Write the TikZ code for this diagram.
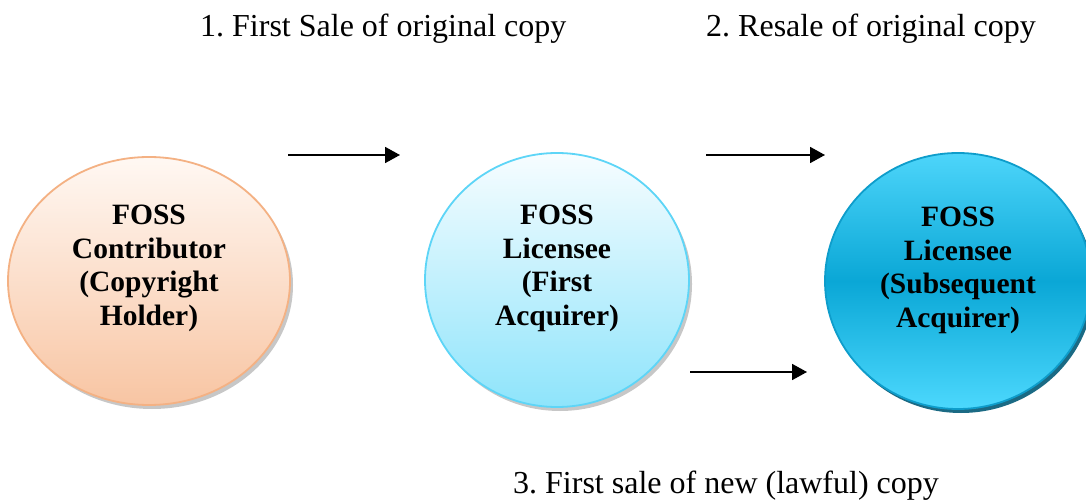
\documentclass[tikz,border=0pt]{standalone}
\usepackage{fontspec}
\setmainfont{Liberation Serif}
\usetikzlibrary{shapes.geometric,arrows.meta}
\frenchspacing
\definecolor{cOneBorder}{HTML}{F4B183}
\definecolor{cOneTop}{HTML}{FFF8F3}
\definecolor{cOneBot}{HTML}{F8C5A3}
\definecolor{cTwoBorder}{HTML}{5DD5F7}
\definecolor{cTwoTop}{HTML}{F7FDFF}
\definecolor{cTwoBot}{HTML}{8EE4FB}
\definecolor{cThreeBorder}{HTML}{0E9DCB}
\definecolor{cThreeTop}{HTML}{4DD5FA}
\definecolor{cThreeMid}{HTML}{0AA7D6}
\definecolor{cThreeBot}{HTML}{4CD8FD}
\definecolor{cThreeShadow}{HTML}{1B6A84}
\begin{document}
\begin{tikzpicture}[x=1pt,y=-1pt,
  bubble/.style={ellipse, inner sep=0pt, line width=1.8pt},
  dropshade/.style={ellipse, inner sep=0pt, draw=none},
  lbl/.style={align=center, inner sep=0pt, font=\fontsize{29.5}{33.5}\selectfont\bfseries},
  caption/.style={anchor=base west, inner sep=0pt, font=\fontsize{32}{36}\selectfont},
  flow/.style={line width=1.8pt, -{Triangle[length=15pt,width=16pt]}}]
\useasboundingbox (0,0) rectangle (1086,502);
\fill[white] (0,0) rectangle (1086,502);

% shadows
\node[dropshade, minimum width=282pt, minimum height=248pt, fill=black, opacity=0.22] (s1) at (152,285) {};
\node[dropshade, minimum width=264pt, minimum height=254pt, fill=black, opacity=0.22] (s2) at (560,284) {};
\node[dropshade, minimum width=266pt, minimum height=256pt, fill=cThreeShadow] (s3) at (961,285) {};

% circles
\node[bubble, minimum width=282pt, minimum height=248pt, draw=cOneBorder, top color=cOneTop, bottom color=cOneBot] (c1) at (149,281) {};
\node[bubble, minimum width=264pt, minimum height=254pt, draw=cTwoBorder, top color=cTwoTop, bottom color=cTwoBot] (c2) at (557,280) {};
\node[bubble, minimum width=266pt, minimum height=256pt, draw=cThreeBorder, top color=cThreeTop, bottom color=cThreeBot, middle color=cThreeMid] (c3) at (958,281) {};

% labels
\node[lbl] (t1) at ([yshift=12.5pt]c1.center) {FOSS\\Contributor\\(Copyright\\Holder)};
\node[lbl] (t2) at ([yshift=11.5pt]c2.center) {FOSS\\Licensee\\(First\\Acquirer)};
\node[lbl] (t3) at ([yshift=10.5pt]c3.center) {FOSS\\Licensee\\(Subsequent\\Acquirer)};

% captions
\node[caption] (l1) at (200,37) {1. First Sale of original copy};
\node[caption] (l2) at (706,37) {2. Resale of original copy};
\node[caption] (l3) at (513,493) {3. First sale of new (lawful) copy};

% arrows
\coordinate (a1s) at (288,155);
\coordinate (a1e) at (400,155);
\coordinate (a2s) at (706,155);
\coordinate (a2e) at (825,155);
\coordinate (a3s) at (690,372);
\coordinate (a3e) at (807,372);
\draw[flow] (a1s) -- (a1e);
\draw[flow] (a2s) -- (a2e);
\draw[flow] (a3s) -- (a3e);
\end{tikzpicture}
\end{document}
